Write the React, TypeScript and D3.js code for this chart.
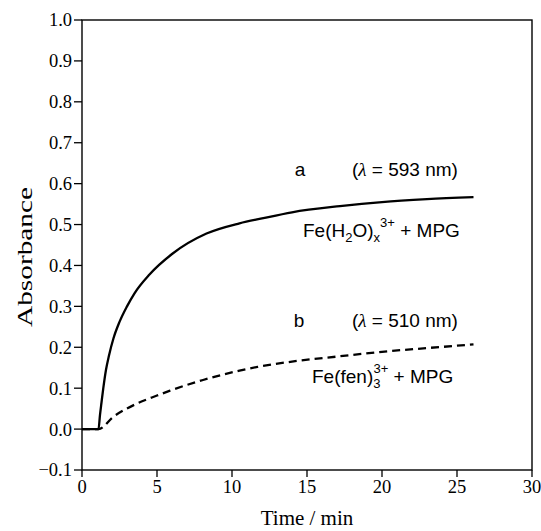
import React from "react";
import * as d3 from "d3";

const timeA = [0, 1.1, 1.2, 1.3, 1.42, 1.6, 1.8, 2.1, 2.5, 3.0, 3.5, 4.5, 6.0, 8.3, 10.5, 12, 14, 17.2, 20, 23, 26.1];
const absA = [0, 0, 0.035, 0.065, 0.1, 0.145, 0.18, 0.222, 0.262, 0.3, 0.332, 0.378, 0.428, 0.478, 0.503, 0.515, 0.53, 0.545, 0.555, 0.562, 0.567];
const timeB = [0, 1.1, 2.09, 3.64, 5.0, 5.87, 8.07, 10.5, 11.7, 14, 17.2, 20, 23, 26.1];
const absB = [0, 0, 0.03, 0.062, 0.082, 0.094, 0.12, 0.143, 0.152, 0.165, 0.178, 0.189, 0.198, 0.207];
const xTicks = [0, 5, 10, 15, 20, 25, 30];
const yTicks = [-0.1, 0, 0.1, 0.2, 0.3, 0.4, 0.5, 0.6, 0.7, 0.8, 0.9, 1.0];

const W = 541, H = 531;
const L = 82, R = 532, T = 20, B = 470;

export default function App() {
  const x = d3.scaleLinear().domain([0, 30]).range([L, R]);
  const y = d3.scaleLinear().domain([-0.1, 1.0]).range([B, T]);
  const line = d3.line<[number, number]>().x(d => x(d[0])).y(d => y(d[1])).curve(d3.curveMonotoneX);
  const dA = line(timeA.map((t, i) => [t, absA[i]]) as [number, number][]) || "";
  const dB = line(timeB.map((t, i) => [t, absB[i]]) as [number, number][]) || "";
  const serif = "'Liberation Serif', 'Times New Roman', serif";
  const sans = "'Liberation Sans', Arial, sans-serif";
  return (
    <svg width={W} height={H} style={{ position: "absolute", left: 0, top: 0, background: "#fff" }}>
      <rect x={L} y={T} width={R - L} height={B - T} fill="none" stroke="#000" strokeWidth={1.4} />
      {yTicks.map(v => (
        <g key={"y" + v}>
          <line x1={L - 8} x2={L} y1={y(v)} y2={y(v)} stroke="#000" strokeWidth={1.3} />
          <text x={L - 10} y={y(v)} dy="0.35em" textAnchor="end" fontFamily={serif} fontSize={18.5}>
            {v < 0 ? "\u2212" + Math.abs(v).toFixed(1) : v.toFixed(1)}
          </text>
        </g>
      ))}
      {xTicks.map(v => (
        <g key={"x" + v}>
          <line x1={x(v)} x2={x(v)} y1={B} y2={B + 7} stroke="#000" strokeWidth={1.3} />
          <text x={x(v)} y={493} textAnchor="middle" fontFamily={serif} fontSize={18.5}>{v}</text>
        </g>
      ))}
      <text x={(L + R) / 2} y={525} textAnchor="middle" fontFamily={serif} fontSize={21}>Time / min</text>
      <text transform={`translate(32,257) rotate(-90)`} textAnchor="middle" fontFamily={serif} fontSize={22} textLength={140} lengthAdjust="spacingAndGlyphs">Absorbance</text>
      <path d={dA} fill="none" stroke="#000" strokeWidth={2.3} />
      <path d={dB} fill="none" stroke="#000" strokeWidth={2.3} strokeDasharray="8,5" />
      <g fontFamily={sans} fontSize={19} fill="#000">
        <text x={300} y={176} textAnchor="middle">a</text>
        <text x={352} y={176}>(<tspan fontFamily={serif} fontStyle="italic">λ</tspan> = 593 nm)</text>
        <text x={303} y={237}>Fe(H<tspan fontSize={13} dy={5}>2</tspan><tspan dy={-5}>O)</tspan><tspan fontSize={13} dy={5}>x</tspan><tspan fontSize={13} dy={-15}>3+</tspan><tspan dy={10}> + MPG</tspan></text>
        <text x={299} y={327} textAnchor="middle">b</text>
        <text x={352} y={327}>(<tspan fontFamily={serif} fontStyle="italic">λ</tspan> = 510 nm)</text>
        <text x={312} y={383}>Fe(fen)<tspan fontSize={13} dy={5}>3</tspan><tspan fontSize={13} dx={-7} dy={-15}>3+</tspan><tspan dy={10}> + MPG</tspan></text>
      </g>
    </svg>
  );
}
